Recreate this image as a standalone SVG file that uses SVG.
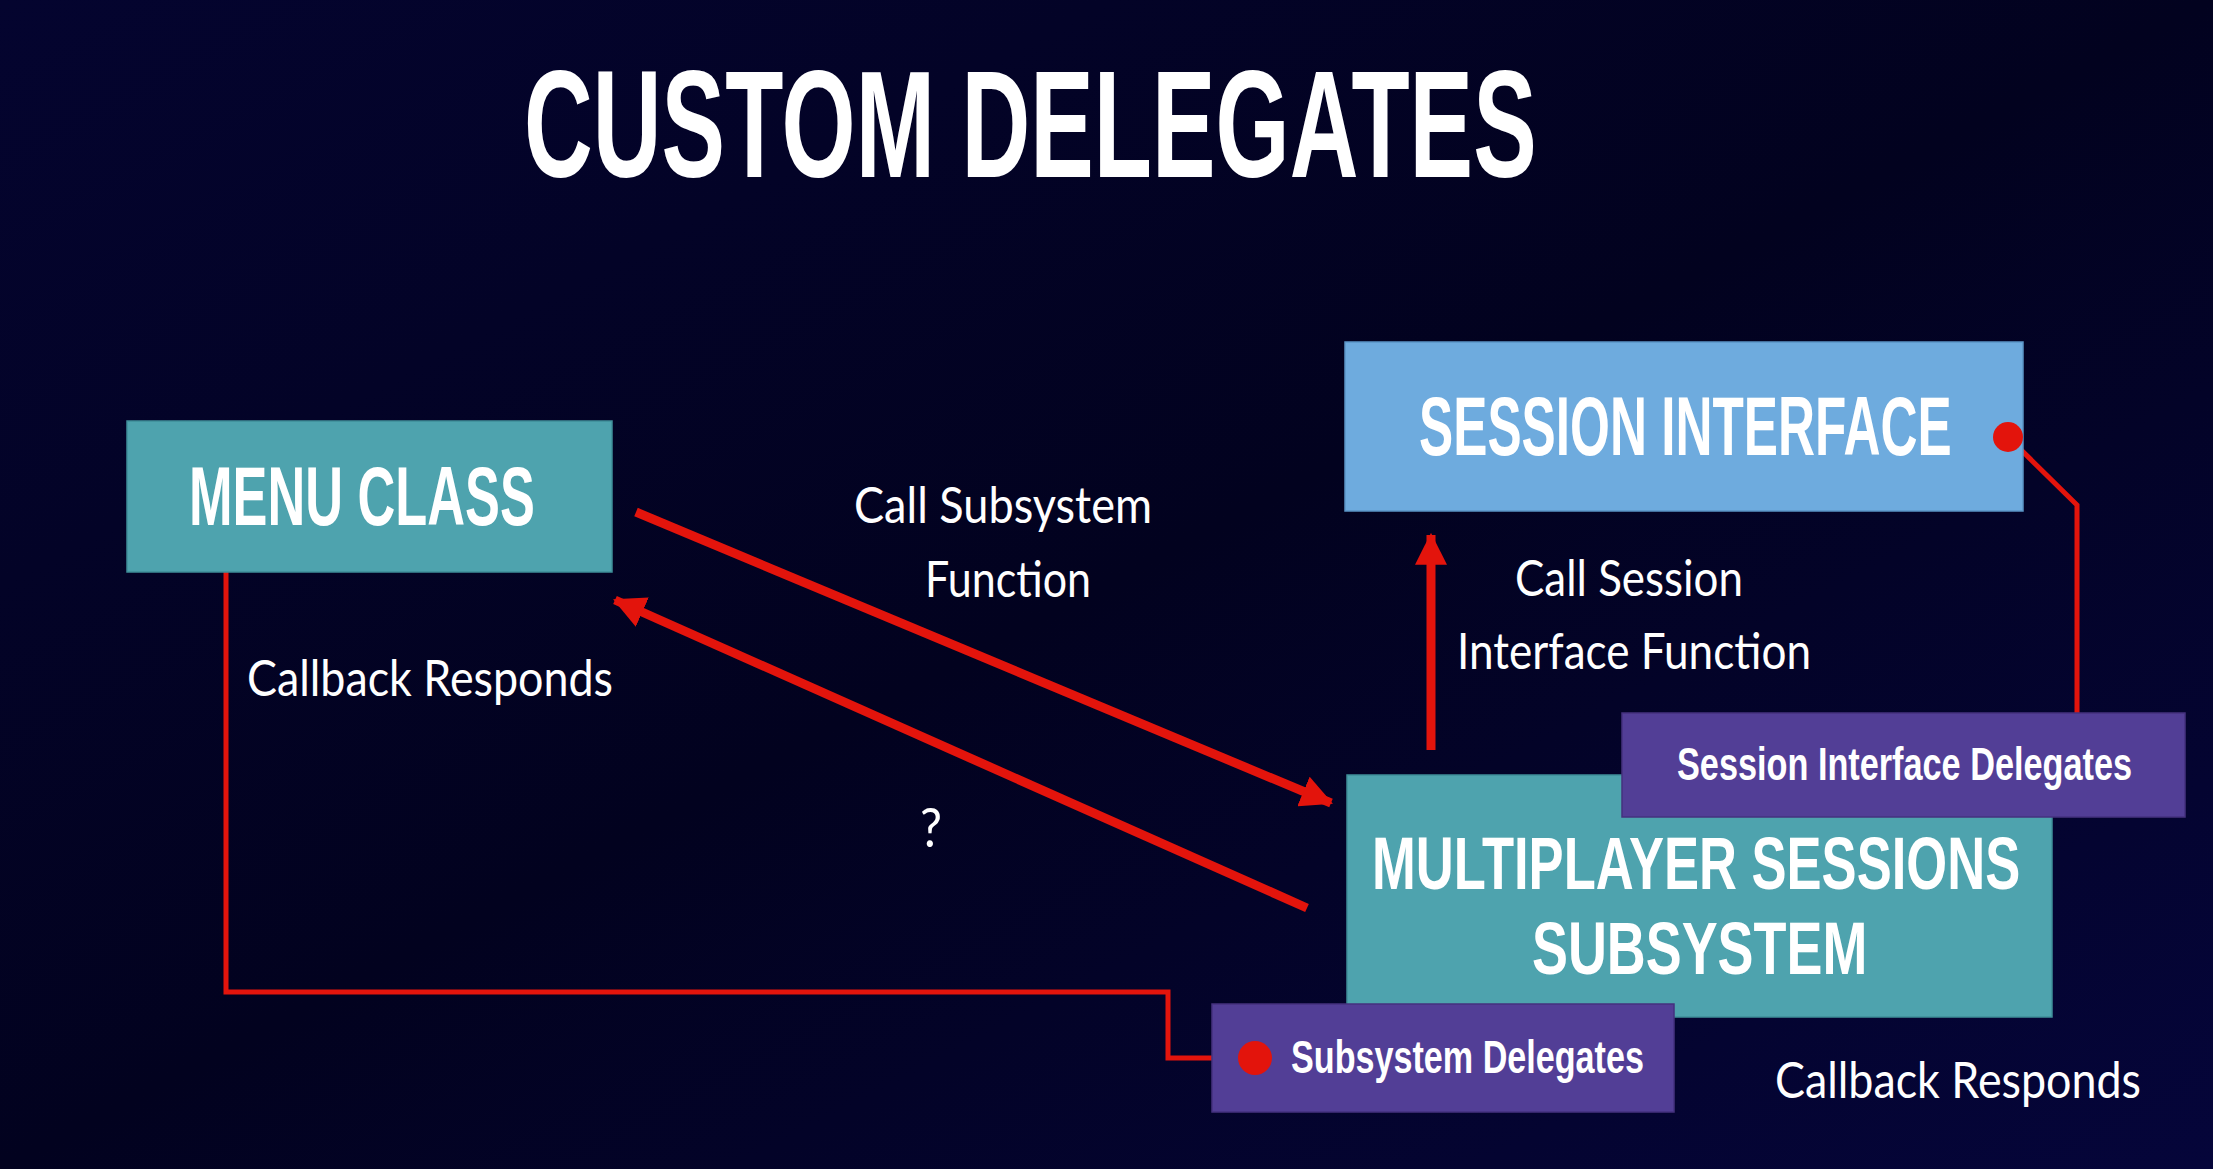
<svg xmlns="http://www.w3.org/2000/svg" width="2213" height="1169" viewBox="0 0 2213 1169">
  <defs>
    <linearGradient id="bg" x1="0" y1="0" x2="1" y2="1">
      <stop offset="0" stop-color="#04042f"/>
      <stop offset="0.5" stop-color="#02021f"/>
      <stop offset="1" stop-color="#05053a"/>
    </linearGradient>
    <marker id="head" markerUnits="userSpaceOnUse" markerWidth="32" markerHeight="32" refX="28" refY="15" orient="auto" viewBox="0 0 30 30">
      <path d="M0,0 L30,15 L0,30 Z" fill="#e3140c"/>
    </marker>
    <style>
      .title { font-family: "Liberation Sans Narrow", "Liberation Sans", sans-serif; font-size: 152px; font-weight: bold; fill: #ffffff; }
      .box-label { font-family: "Liberation Sans Narrow", "Liberation Sans", sans-serif; font-size: 84px; font-weight: bold; fill: #ffffff; }
      .box-label-sm { font-family: "Liberation Sans Narrow", "Liberation Sans", sans-serif; font-size: 74px; font-weight: bold; fill: #ffffff; }
      .del-label { font-family: "Liberation Sans Narrow", "Liberation Sans", sans-serif; font-size: 46px; font-weight: bold; fill: #ffffff; }
      .body { font-family: Lato, "Open Sans", sans-serif; font-size: 50px; fill: #ffffff; }
      .arrow { stroke: #e3140c; stroke-width: 9; fill: none; marker-end: url(#head); }
      .wire { stroke: #e3140c; stroke-width: 5; fill: none; }
      .dot { fill: #e3140c; }
      .teal { fill: #4ea3ae; stroke: #3f8f99; stroke-width: 1.5; }
      .blue { fill: #6eabde; stroke: #5b95c6; stroke-width: 1.5; }
      .purple { fill: #523e96; stroke: #45327f; stroke-width: 1.5; }
    </style>
  </defs>

  <rect x="0" y="0" width="2213" height="1169" fill="url(#bg)"/>

  <text class="title" transform="translate(524,177) scale(0.758,1)" x="0" y="0" textLength="1336" lengthAdjust="spacingAndGlyphs">CUSTOM DELEGATES</text>

  <g id="connectors">
    <path class="arrow" d="M636,512 L1331,803"/>
    <path class="arrow" d="M1307,908 L615,600"/>
    <path class="arrow" d="M1431,750 L1431,535"/>
    <path class="wire" d="M226,572 V992 H1168 V1058 H1255"/>
    <path class="wire" d="M2008,437 L2077,505 V713"/>
  </g>

  <g id="menu-class">
    <rect class="teal" x="127" y="421" width="485" height="151"/>
    <text class="box-label" transform="translate(189,525) scale(0.76,1)" x="0" y="0" textLength="455" lengthAdjust="spacingAndGlyphs">MENU CLASS</text>
  </g>

  <g id="session-interface">
    <rect class="blue" x="1345" y="342" width="678" height="169"/>
    <text class="box-label" transform="translate(1419,455) scale(0.741,1)" x="0" y="0" textLength="719" lengthAdjust="spacingAndGlyphs">SESSION INTERFACE</text>
    <circle class="dot" cx="2008" cy="437" r="15"/>
  </g>

  <g id="multiplayer-sessions-subsystem">
    <rect class="teal" x="1347" y="775" width="705" height="242"/>
    <text class="box-label-sm" transform="translate(1372,889) scale(0.854,1)" x="0" y="0" textLength="759" lengthAdjust="spacingAndGlyphs">MULTIPLAYER SESSIONS</text>
    <text class="box-label-sm" transform="translate(1532,974) scale(0.887,1)" x="0" y="0" textLength="378" lengthAdjust="spacingAndGlyphs">SUBSYSTEM</text>
  </g>

  <g id="session-interface-delegates">
    <rect class="purple" x="1622" y="713" width="563" height="104"/>
    <text class="del-label" transform="translate(1677,780) scale(0.923,1)" x="0" y="0" textLength="493" lengthAdjust="spacingAndGlyphs">Session Interface Delegates</text>
  </g>

  <g id="subsystem-delegates">
    <rect class="purple" x="1212" y="1004" width="462" height="108"/>
    <circle class="dot" cx="1255" cy="1058" r="17"/>
    <text class="del-label" transform="translate(1291,1073) scale(0.905,1)" x="0" y="0" textLength="390" lengthAdjust="spacingAndGlyphs">Subsystem Delegates</text>
  </g>

  <g id="labels">
    <text class="body" x="854" y="523" textLength="298" lengthAdjust="spacingAndGlyphs">Call Subsystem</text>
    <text class="body" x="925" y="597" textLength="166" lengthAdjust="spacingAndGlyphs">Function</text>
    <text class="body" x="1515" y="596" textLength="228" lengthAdjust="spacingAndGlyphs">Call Session</text>
    <text class="body" x="1457" y="669" textLength="354" lengthAdjust="spacingAndGlyphs">Interface Function</text>
    <text class="body" x="247" y="696" textLength="366" lengthAdjust="spacingAndGlyphs">Callback Responds</text>
    <text class="body" x="1775" y="1098" textLength="366" lengthAdjust="spacingAndGlyphs">Callback Responds</text>
    <text class="body" x="920" y="847" style="font-size:55px" textLength="22" lengthAdjust="spacingAndGlyphs">?</text>
  </g>
</svg>
